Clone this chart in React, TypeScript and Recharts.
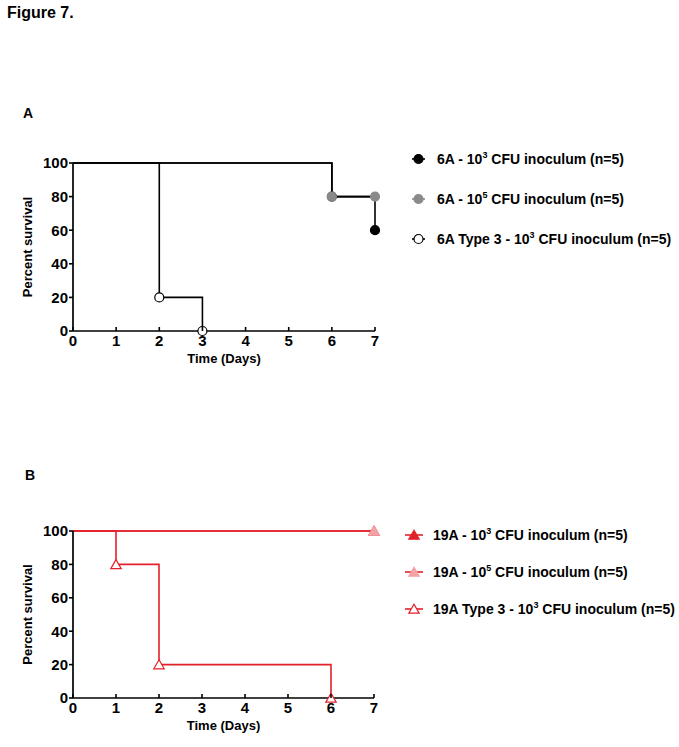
import { LineChart, Line, XAxis, YAxis, Legend } from 'recharts';

const FONT = '"Liberation Sans", Arial, Helvetica, sans-serif';
const RED = '#e3212a';
const PINK = '#f3a3a6';
const GREY = '#8a8a8a';

const xTicks = [0, 1, 2, 3, 4, 5, 6, 7];
const yTicks = [0, 20, 40, 60, 80, 100];

// panel A, strain 6A
const a1Days = [0, 6, 7];
const a1Survival = [100, 80, 60];
const a2Days = [0, 6, 7];
const a2Survival = [100, 80, 80];
const a3Days = [0, 2, 3];
const a3Survival = [100, 20, 0];

// panel B, strain 19A
const b1Days = [0, 7];
const b1Survival = [100, 100];
const b2Days = [0, 7];
const b2Survival = [100, 100];
const b3Days = [0, 1, 2, 6];
const b3Survival = [100, 80, 20, 0];

const aLabels = ['6A - 10', '6A - 10', '6A Type 3 - 10'];
const bLabels = ['19A - 10', '19A - 10', '19A Type 3 - 10'];
const exponents = ['3', '5', '3'];
const labelTail = ' CFU inoculum (n=5)';

const toRows = (days: number[], pct: number[]) =>
  days.map((d, i) => ({ day: d, pct: pct[i], mark: i > 0 }));

type Marker = { shape: 'circle' | 'triangle'; fill: string; stroke: string; line: string };

const markersA: Marker[] = [
  { shape: 'circle', fill: '#000', stroke: '#000', line: '#000' },
  { shape: 'circle', fill: GREY, stroke: GREY, line: GREY },
  { shape: 'circle', fill: '#fff', stroke: '#000', line: '#000' },
];
const markersB: Marker[] = [
  { shape: 'triangle', fill: RED, stroke: RED, line: RED },
  { shape: 'triangle', fill: PINK, stroke: PINK, line: RED },
  { shape: 'triangle', fill: '#fff', stroke: RED, line: RED },
];

function Symbol({ m, cx, cy }: { m: Marker; cx: number; cy: number }) {
  if (m.shape === 'circle') {
    return <circle cx={cx} cy={cy} r={4.5} fill={m.fill} stroke={m.stroke} strokeWidth={1.2} />;
  }
  return (
    <polygon
      points={`${cx},${cy - 4.8} ${cx - 5.2},${cy + 4.2} ${cx + 5.2},${cy + 4.2}`}
      fill={m.fill}
      stroke={m.stroke}
      strokeWidth={1.2}
    />
  );
}

const makeDot = (m: Marker) => (props: any) => {
  const { cx, cy, payload, index } = props;
  if (!payload || !payload.mark) return <g key={`n${index}`} />;
  return (
    <g key={`d${index}`}>
      <Symbol m={m} cx={cx} cy={cy} />
    </g>
  );
};

const XTick = (props: any) => {
  const { x, y, payload } = props;
  return (
    <g>
      <line x1={x} x2={x} y1={y} y2={y - 4} stroke="#000" strokeWidth={1.6} />
      <text x={x} y={y + 15} textAnchor="middle" fontSize={15} fontWeight="bold" fontFamily={FONT} fill="#000">
        {payload.value}
      </text>
    </g>
  );
};

const YTitle = (props: any) => {
  const { viewBox } = props;
  const cx = viewBox.x + 4;
  const cy = viewBox.y + viewBox.height / 2;
  return (
    <text
      x={cx}
      y={cy}
      transform={`rotate(-90 ${cx} ${cy})`}
      textAnchor="middle"
      dominantBaseline="central"
      fontSize={13}
      fontWeight="bold"
      fontFamily={FONT}
      fill="#000"
    >
      Percent survival
    </text>
  );
};

const XTitle = (props: any) => {
  const { viewBox } = props;
  return (
    <text
      x={viewBox.x + viewBox.width / 2}
      y={viewBox.y + 27}
      textAnchor="middle"
      dominantBaseline="central"
      fontSize={13}
      fontWeight="bold"
      fontFamily={FONT}
      fill="#000"
    >
      Time (Days)
    </text>
  );
};

function LegendBox({ labels, markers, rowH, symW, gap }: { labels: string[]; markers: Marker[]; rowH: number; symW: number; gap: number }) {
  return (
    <div style={{ fontFamily: FONT, fontWeight: 'bold', fontSize: 14, color: '#000' }}>
      {labels.map((lab, i) => (
        <div key={i} style={{ height: rowH, display: 'flex', alignItems: 'center', whiteSpace: 'nowrap' }}>
          <svg width={symW} height={12} style={{ marginRight: gap, overflow: 'visible' }}>
            <line x1={0} x2={symW} y1={6} y2={6} stroke={markers[i].line} strokeWidth={1.6} />
            <Symbol m={markers[i]} cx={symW / 2} cy={6} />
          </svg>
          <span>
            {lab}
            <span style={{ fontSize: 9, position: 'relative', top: -6 }}>{exponents[i]}</span>
            {labelTail}
          </span>
        </div>
      ))}
    </div>
  );
}

type PanelProps = {
  top: number;
  height: number;
  margin: { top: number; right: number; bottom: number; left: number };
  series: { rows: { day: number; pct: number; mark: boolean }[]; m: Marker }[];
  labels: string[];
  markers: Marker[];
  legend: { left: number; top: number; rowH: number; symW: number; gap: number };
};

function Panel({ top, height, margin, series, labels, markers, legend }: PanelProps) {
  return (
    <div style={{ position: 'absolute', left: 0, top }}>
      <LineChart width={679} height={height} margin={margin}>
        <XAxis
          type="number"
          dataKey="day"
          domain={[0, 7]}
          ticks={xTicks}
          interval={0}
          height={30}
          tickSize={0}
          tickMargin={0}
          tickLine={false}
          axisLine={{ stroke: '#000', strokeWidth: 1.7 }}
          tick={<XTick />}
          label={<XTitle />}
        />
        <YAxis
          type="number"
          domain={[0, 100]}
          ticks={yTicks}
          interval={0}
          width={50}
          tickSize={4}
          tickMargin={1}
          axisLine={{ stroke: '#000', strokeWidth: 1.7 }}
          tickLine={{ stroke: '#000', strokeWidth: 1.6 }}
          tick={{ fill: '#000', fontSize: 15, fontWeight: 'bold', fontFamily: FONT }}
          label={<YTitle />}
        />
        {series.map((s, i) => (
          <Line
            key={i}
            data={s.rows}
            dataKey="pct"
            type="stepAfter"
            stroke={s.m.line === GREY ? '#000' : s.m.line}
            strokeWidth={1.6}
            dot={makeDot(s.m)}
            activeDot={false}
            isAnimationActive={false}
          />
        ))}
        <Legend
          layout="vertical"
          align="center"
          verticalAlign="middle"
          wrapperStyle={{ left: legend.left, top: legend.top, width: 270 }}
          content={() => (
            <LegendBox labels={labels} markers={markers} rowH={legend.rowH} symW={legend.symW} gap={legend.gap} />
          )}
        />
      </LineChart>
    </div>
  );
}

export default function App() {
  return (
    <div style={{ position: 'absolute', left: 0, top: 0, width: 679, height: 747, background: '#fff', fontFamily: FONT }}>
      <div style={{ position: 'absolute', left: 7, top: 4.5, fontSize: 16, lineHeight: '16px', fontWeight: 'bold' }}>Figure 7.</div>
      <div style={{ position: 'absolute', left: 23, top: 106, fontSize: 14, lineHeight: '14px', fontWeight: 'bold' }}>A</div>
      <div style={{ position: 'absolute', left: 25, top: 468, fontSize: 14, lineHeight: '14px', fontWeight: 'bold' }}>B</div>
      <Panel
        top={100}
        height={280}
        margin={{ top: 63, right: 304, bottom: 19, left: 23 }}
        series={[
          { rows: toRows(a1Days, a1Survival), m: markersA[0] },
          { rows: toRows(a2Days, a2Survival), m: markersA[1] },
          { rows: toRows(a3Days, a3Survival), m: markersA[2] },
        ]}
        labels={aLabels}
        markers={markersA}
        legend={{ left: 412, top: 39, rowH: 40, symW: 13, gap: 12 }}
      />
      <Panel
        top={470}
        height={277}
        margin={{ top: 61, right: 305, bottom: 19, left: 23 }}
        series={[
          { rows: toRows(b1Days, b1Survival), m: markersB[0] },
          { rows: toRows(b2Days, b2Survival), m: markersB[1] },
          { rows: toRows(b3Days, b3Survival), m: markersB[2] },
        ]}
        labels={bLabels}
        markers={markersB}
        legend={{ left: 405, top: 46.5, rowH: 37, symW: 18, gap: 10 }}
      />
    </div>
  );
}
